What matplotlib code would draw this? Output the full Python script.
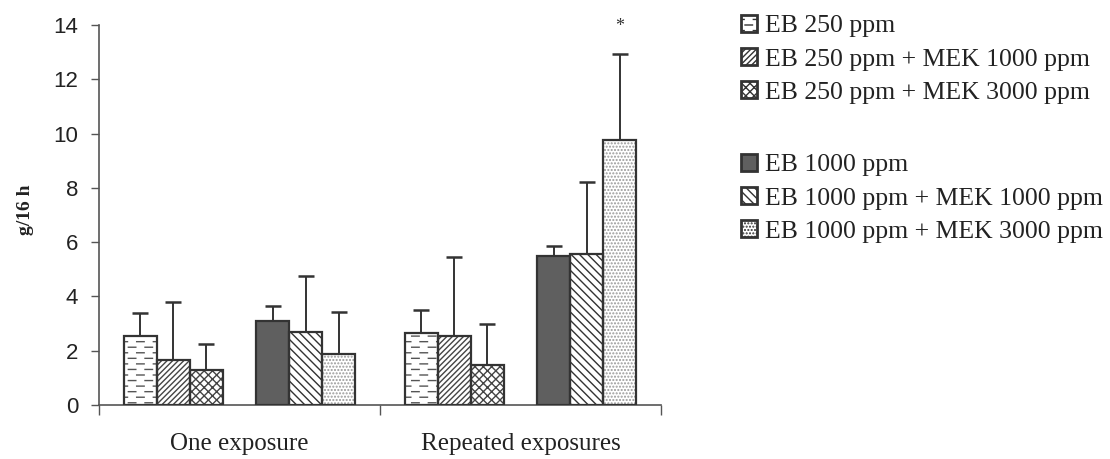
import warnings
import numpy as np
import matplotlib
matplotlib.use("Agg")
import matplotlib.pyplot as plt
import matplotlib.hatch as mhatch
from matplotlib.path import Path
from matplotlib.patches import Patch

warnings.filterwarnings("ignore")

categories = ["One exposure", "Repeated exposures"]
series = ["EB 250 ppm", "EB 250 ppm + MEK 1000 ppm", "EB 250 ppm + MEK 3000 ppm",
          "EB 1000 ppm", "EB 1000 ppm + MEK 1000 ppm", "EB 1000 ppm + MEK 3000 ppm"]

# bar heights per series: [one exposure, repeated exposures]
means = [[2.55, 2.65],
         [1.65, 2.55],
         [1.3, 1.47],
         [3.08, 5.5],
         [2.68, 5.55],
         [1.88, 9.75]]
# top of the error bars
err_tops = [[3.4, 3.5],
            [3.78, 5.45],
            [2.25, 2.97],
            [3.66, 5.84],
            [4.75, 8.2],
            [3.43, 12.93]]


# short horizontal dashes, used with the '_' hatch character
class DashHatch(mhatch.HatchPatternBase):
    rows = 18
    per_row = 6

    def __init__(self, hatch, density):
        n = hatch.count("_")
        self.num_lines = self.rows * self.per_row if n else 0
        self.num_vertices = self.num_lines * 2

    def set_vertices_and_codes(self, vertices, codes):
        k = 0
        for r in range(self.rows):
            y = (r + 0.5) / self.rows
            shift = 0.5 / self.per_row if r % 2 else 0.0
            for c in range(self.per_row):
                x0 = (c + 0.2) / self.per_row + shift
                x0 = x0 % 1.0
                x1 = min(x0 + 0.45 / self.per_row, 1.0)
                vertices[2 * k] = (x0, y)
                vertices[2 * k + 1] = (x1, y)
                codes[2 * k] = Path.MOVETO
                codes[2 * k + 1] = Path.LINETO
                k += 1


mhatch._hatch_types.append(DashHatch)

hatches = ["_", "//////", "xxxx", "", "\\\\\\\\", "....."]
faces = ["white", "white", "white", "#5f5f5f", "white", "white"]
hatch_cols = ["#555555", "#444444", "#444444", "#333333", "#333333", "#999999"]

plt.rcParams["hatch.linewidth"] = 1.0

fig = plt.figure(figsize=(11.1, 4.59), dpi=100)
ax = fig.add_axes([99 / 1110, 1 - 405 / 459, 562 / 1110, 380 / 459])

w = 0.1176
offsets = [-3, -2, -1, 1, 2, 3]
x = np.arange(len(categories))
handles = []
for i in range(len(series)):
    m = np.array(means[i])
    up = np.array(err_tops[i]) - m
    xs = x + offsets[i] * w
    ax.errorbar(xs, m, yerr=[np.zeros_like(m), up], fmt="none", ecolor="#333333",
                elinewidth=1.4, capsize=6, capthick=1.8, zorder=1)
    ax.bar(xs, m, width=w, color=faces[i], edgecolor=hatch_cols[i],
           hatch=hatches[i], linewidth=0, zorder=2)
    ax.bar(xs, m, width=w, color="none", edgecolor="#333333", linewidth=1.6, zorder=3)
    handles.append(Patch(facecolor=faces[i], edgecolor="#333333", hatch=hatches[i], linewidth=2))

ax.text(x[1] + 3 * w, 13.95, "*", ha="center", va="center", fontsize=13,
        family="Liberation Serif", color="#333333")

ax.set_xlim(-0.5, 1.5)
ax.set_ylim(0, 14)
ax.set_yticks(np.arange(0, 15, 2))
ax.set_xticks(x)
ax.set_xticklabels(categories, family="Liberation Serif", fontsize=18, color="#222222")
ax.tick_params(axis="x", length=0, pad=20)
ax.set_xticks([-0.5, 0.5, 1.5], minor=True)
ax.tick_params(axis="x", which="minor", length=7, width=1, color="#555555", direction="out")
ax.tick_params(axis="y", length=6, width=1, color="#555555", labelsize=16, labelcolor="#222222", pad=9)
for lab in ax.get_yticklabels():
    lab.set_family("Liberation Sans")
for s in ["top", "right"]:
    ax.spines[s].set_visible(False)
for s in ["left", "bottom"]:
    ax.spines[s].set_color("#555555")
    ax.spines[s].set_linewidth(1.2)

fig.text(25 / 1110, 1 - 210 / 459, "g/16 h", rotation=90, ha="center", va="center",
         family="Liberation Serif", fontweight="bold", fontsize=14, color="#222222")

leg_kw = dict(frameon=False, handlelength=0.62, handleheight=0.62, handletextpad=0.3,
              labelspacing=0.42, borderpad=0, borderaxespad=0,
              prop={"family": "Liberation Serif", "size": 18.5})
leg1 = fig.legend(handles[:3], series[:3], loc="upper left",
                  bbox_to_anchor=(741 / 1110, 1 - 15 / 459), **leg_kw)
leg2 = fig.legend(handles[3:], series[3:], loc="upper left",
                  bbox_to_anchor=(741 / 1110, 1 - 154 / 459), **leg_kw)
for leg in (leg1, leg2):
    for t in leg.get_texts():
        t.set_color("#222222")

fig.savefig("out.png", dpi=100)
